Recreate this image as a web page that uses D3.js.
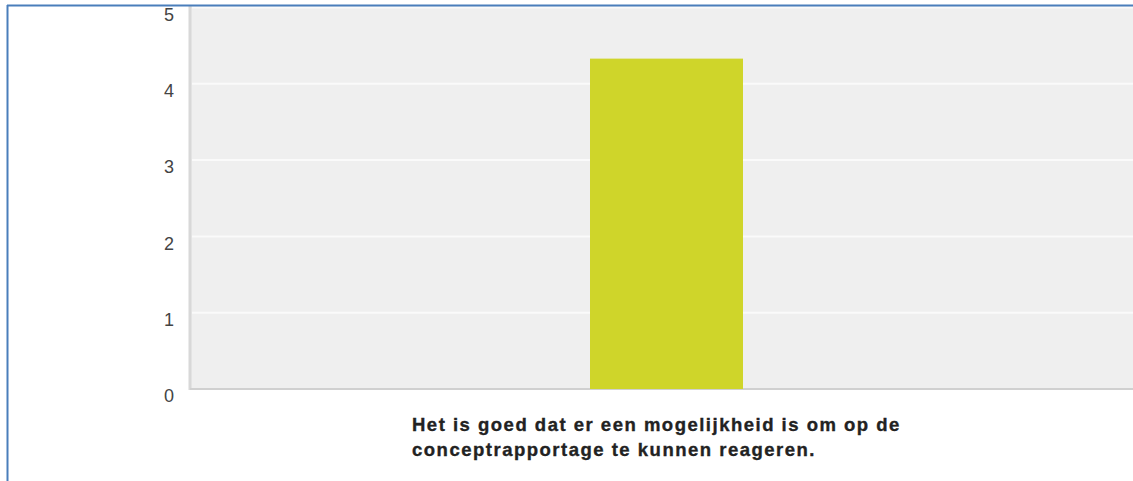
<!DOCTYPE html>
<html>
<head>
<meta charset="utf-8">
<script src="https://cdn.jsdelivr.net/npm/d3@7"></script>
<style>
  html, body { margin: 0; padding: 0; background: #fff; }
  svg { display: block; }
</style>
</head>
<body>
<svg id="chart" width="1133" height="481"></svg>
<script>
// Survey statement and its average score
const categories = ["Het is goed dat er een mogelijkheid is om op de conceptrapportage te kunnen reageren."];
const labelLines = ["Het is goed dat er een mogelijkheid is om op de", "conceptrapportage te kunnen reageren."];
const values = [4.33];
const yTicks = [0, 1, 2, 3, 4, 5];

const svg = d3.select("#chart");
const W = 1133, H = 481;
const plot = { left: 190, right: 1143, top: 7.5, bottom: 389 };

const x = d3.scaleBand().domain(categories).range([plot.left, plot.right]).paddingInner(0).paddingOuter(0.42);
const y = d3.scaleLinear().domain([0, 5]).range([plot.bottom, plot.top]);

svg.append("rect").attr("x", 0).attr("y", 0).attr("width", W).attr("height", H).attr("fill", "#fff");

// plot background
svg.append("rect")
  .attr("x", plot.left).attr("y", plot.top - 2)
  .attr("width", W - plot.left).attr("height", plot.bottom - plot.top + 2)
  .attr("fill", "#efefef");

// horizontal gridlines
svg.append("g").selectAll("line").data(yTicks.filter(d => d > 0)).join("line")
  .attr("x1", plot.left + 2).attr("x2", W)
  .attr("y1", d => y(d)).attr("y2", d => y(d))
  .attr("stroke", "#fafafa").attr("stroke-width", 2);

// left and bottom axis lines
svg.append("line").attr("x1", plot.left).attr("x2", plot.left)
  .attr("y1", plot.top - 2).attr("y2", plot.bottom + 1)
  .attr("stroke", "#d8d8d8").attr("stroke-width", 3);
svg.append("line").attr("x1", plot.left).attr("x2", W)
  .attr("y1", plot.bottom).attr("y2", plot.bottom)
  .attr("stroke", "#d0d0d0").attr("stroke-width", 2);

// bars
const barW = 153;
svg.append("g").selectAll("rect").data(values).join("rect")
  .attr("x", (d, i) => x(categories[i]) + x.bandwidth() / 2 - barW / 2)
  .attr("y", d => y(d))
  .attr("width", barW)
  .attr("height", d => y(0) - y(d))
  .attr("fill", "#cfd52a");

// y-axis tick labels
const yAxis = d3.axisLeft(y).tickValues(yTicks).tickSize(0).tickPadding(0).tickFormat(d3.format("d"));
const gy = svg.append("g").attr("transform", `translate(174,7)`).call(yAxis);
gy.select(".domain").remove();
gy.selectAll("text")
  .attr("font-family", "Liberation Sans, Arial, sans-serif")
  .attr("font-size", 18)
  .attr("fill", "#444");

// category label
const lbl = svg.append("text")
  .attr("font-family", "Liberation Sans, Arial, sans-serif")
  .attr("font-size", 18.5)
  .attr("font-weight", "bold")
  .attr("letter-spacing", 1.5)
  .attr("fill", "#222")
  .attr("stroke", "#222")
  .attr("stroke-width", 0.35);
lbl.selectAll("tspan").data(labelLines).join("tspan")
  .attr("x", 412)
  .attr("y", (d, i) => 431 + i * 25)
  .text(d => d);

// blue frame
svg.append("line").attr("x1", 7.5).attr("x2", 7.5).attr("y1", 5).attr("y2", H)
  .attr("stroke", "#4a7ebb").attr("stroke-width", 2);
svg.append("line").attr("x1", 7).attr("x2", W).attr("y1", 5.5).attr("y2", 5.5)
  .attr("stroke", "#4a7ebb").attr("stroke-width", 2);
</script>
</body>
</html>
